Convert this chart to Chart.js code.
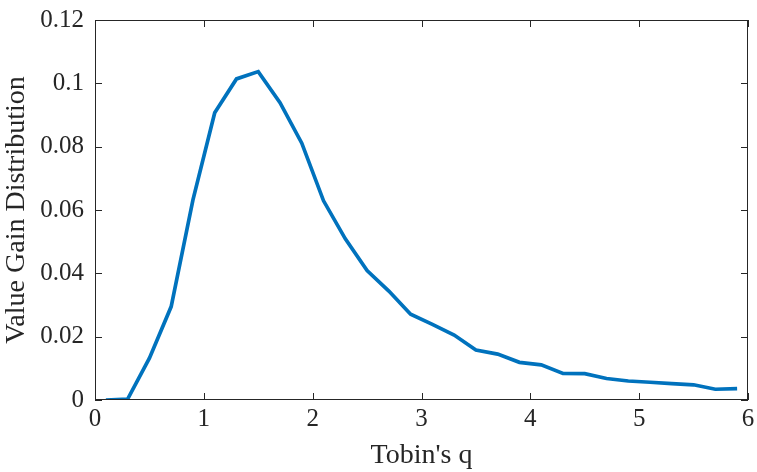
<!DOCTYPE html>
<html>
<head>
<meta charset="utf-8">
<script src="https://cdn.jsdelivr.net/npm/chart.js@4/dist/chart.umd.min.js"></script>
<style>
  html, body { margin: 0; padding: 0; background: #fff; }
  #wrap { width: 757px; height: 472px; }
</style>
</head>
<body>
<div id="wrap"><canvas id="chart" width="757" height="472"></canvas></div>
<script>
// ===== Value gain distribution vs Tobin's q =====
const qValues = [0.1, 0.3, 0.5, 0.7, 0.9, 1.1, 1.3, 1.5, 1.7, 1.9,
                 2.1, 2.3, 2.5, 2.7, 2.9, 3.1, 3.3, 3.5, 3.7, 3.9,
                 4.1, 4.3, 4.5, 4.7, 4.9, 5.1, 5.3, 5.5, 5.7, 5.9];
const gainValues = [0.0000, 0.0003, 0.0132, 0.0295, 0.0632, 0.0907, 0.1014, 0.1037, 0.0939, 0.0811,
                    0.0629, 0.0509, 0.0409, 0.0344, 0.0271, 0.0239, 0.0205, 0.0158, 0.0145, 0.0119,
                    0.0111, 0.0084, 0.0083, 0.0068, 0.0060, 0.0056, 0.0052, 0.0048, 0.0034, 0.0036];
const xTicks = [0, 1, 2, 3, 4, 5, 6];
const yTicks = [0, 0.02, 0.04, 0.06, 0.08, 0.1, 0.12];

const axisColor = '#262626';
const serif = "'Liberation Serif', 'Times New Roman', serif";

// MATLAB-like box with inward ticks on all four sides
const boxPlugin = {
    id: 'box',
    afterDraw(chart) {
        const { ctx, chartArea: a, scales } = chart;
        const len = 7;
        ctx.save();
        ctx.strokeStyle = axisColor;
        ctx.lineWidth = 1;
        ctx.strokeRect(a.left + 0.5, a.top + 0.5, a.right - a.left - 1, a.bottom - a.top - 1);
        ctx.beginPath();
        xTicks.forEach(v => {
            const px = Math.round(scales.x.getPixelForValue(v)) + 0.5;
            ctx.moveTo(px, a.bottom); ctx.lineTo(px, a.bottom - len);
            ctx.moveTo(px, a.top); ctx.lineTo(px, a.top + len);
        });
        yTicks.forEach(v => {
            const py = Math.round(scales.y.getPixelForValue(v)) + 0.5;
            ctx.moveTo(a.left, py); ctx.lineTo(a.left + len, py);
            ctx.moveTo(a.right, py); ctx.lineTo(a.right - len, py);
        });
        ctx.stroke();
        ctx.restore();
    }
};

new Chart(document.getElementById('chart'), {
    type: 'line',
    data: {
        datasets: [{
            data: qValues.map((q, i) => ({ x: q, y: gainValues[i] })),
            borderColor: '#0072BD',
            borderWidth: 3.7,
            pointRadius: 0,
            tension: 0,
            fill: false
        }]
    },
    options: {
        responsive: false,
        animation: false,
        layout: { padding: { top: 20, right: 9, left: 0, bottom: 0 } },
        plugins: { legend: { display: false }, tooltip: { enabled: false } },
        scales: {
            x: {
                type: 'linear', min: 0, max: 6,
                afterBuildTicks: s => { s.ticks = xTicks.map(v => ({ value: v })); },
                afterFit: s => { s.height = 72; s.paddingLeft = 0; s.paddingRight = 0; },
                grid: { display: false, drawTicks: false },
                border: { display: false },
                ticks: { color: axisColor, font: { family: serif, size: 25 }, padding: 4, maxRotation: 0 },
                title: { display: true, text: "Tobin's q", color: axisColor, font: { family: serif, size: 28 }, padding: { top: 0, bottom: 0 } }
            },
            y: {
                type: 'linear', min: 0, max: 0.12,
                afterBuildTicks: s => { s.ticks = yTicks.map(v => ({ value: v })); },
                afterFit: s => { s.width = 95; s.paddingTop = 0; s.paddingBottom = 0; },
                grid: { display: false, drawTicks: false },
                border: { display: false },
                ticks: {
                    color: axisColor, font: { family: serif, size: 25 }, padding: 11,
                    callback: v => String(Number(v.toFixed(2)))
                },
                title: { display: true, text: 'Value Gain Distribution', color: axisColor, font: { family: serif, size: 28 }, padding: { top: 0, bottom: 4 } }
            }
        }
    },
    plugins: [boxPlugin]
});
</script>
</body>
</html>
